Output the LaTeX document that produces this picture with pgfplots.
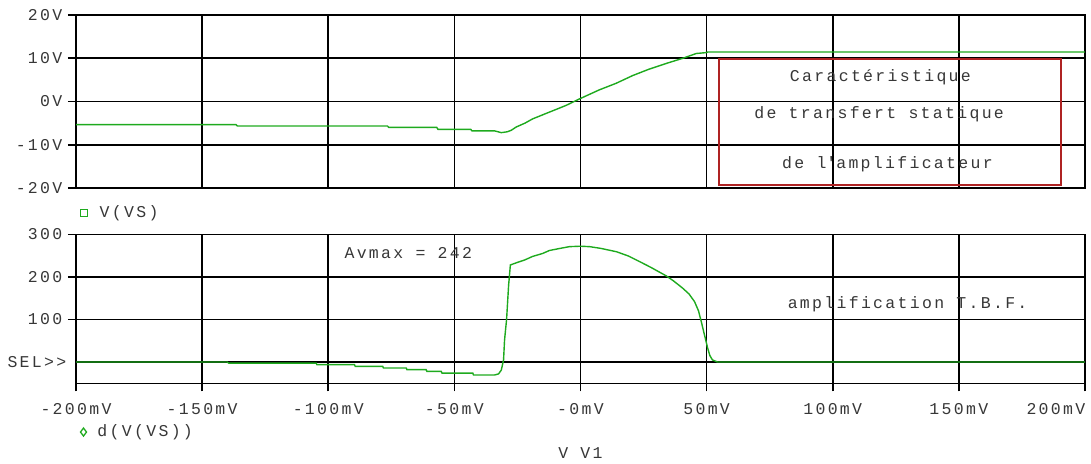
\documentclass[border=0pt]{standalone}
\usepackage{fontspec}
\setmainfont{Liberation Mono}[LetterSpace=14]
\usepackage{pgfplots}
\pgfplotsset{compat=1.18}
\definecolor{trace}{RGB}{30,170,30}
\definecolor{boxred}{RGB}{175,35,35}
\definecolor{txt}{RGB}{55,55,55}
\newcommand\tf{\fontsize{16.5}{19}\selectfont}
\begin{document}
\tf
\begin{tikzpicture}
\useasboundingbox (0pt,0pt) rectangle (1091pt,463pt);
\pgfplotsset{
  every axis/.append style={
    scale only axis, width=1009pt, xmin=-200, xmax=200,
    axis line style={line width=1.6pt, black},
    grid=major, grid style={line width=1.6pt, black},
    tick style={line width=1.6pt, black},
    tick align=outside, major tick length=8pt,
    xtick pos=bottom, ytick pos=left,
    ticklabel style={font=\tf, text=txt},
    anchor=south west,
    legend style={draw=none, fill=none, inner sep=0pt, font=\tf, text=txt,
      nodes={inner sep=0pt}},
    legend cell align=left,
  }
}
% ---------- top axis: V(VS)
\begin{axis}[at={(76pt,275pt)}, height=173pt, ymin=-20, ymax=20,
  ytick={-20,-10,0,10,20}, yticklabels={-20V,-10V,0V,10V,20V},
  xtick={-200,-150,...,200}, xticklabels={}, xtick style={draw=none},
  legend style={at={(0,-0.1445)}, anchor=west, xshift=4.5pt}]
\draw[boxred, line width=1.6pt] (axis cs:54.8,9.8) rectangle (axis cs:190.6,-19.3);
\node[text=txt, font=\tf] at (axis cs:118.9,5.5) {Caractéristique};
\node[text=txt, font=\tf] at (axis cs:118.4,-2.83) {de transfert statique};
\node[text=txt, font=\tf] at (axis cs:121.7,-14.55) {de l\textquotesingle amplificateur};
\addplot[trace, line width=1.4pt, forget plot] coordinates {
(-200,-5.36) (-136.5,-5.36) (-136,-5.67) (-76.5,-5.67) (-76,-5.98) (-57,-5.98)
(-56.5,-6.44) (-43.5,-6.44) (-43,-6.8) (-34,-6.8) (-31.4,-7.2) (-29,-7.0)
(-27.5,-6.67) (-25.5,-5.9) (-22,-5.0) (-18.9,-4.0) (-12.3,-2.45) (-5.7,-0.9)
(-0.4,0.6) (7.5,2.7) (14.1,4.2) (20.7,6.0) (27.3,7.5) (34,8.8) (40.6,10.0)
(45.9,11.1) (49.8,11.3) (50.5,11.45) (200,11.45)};
\addlegendimage{only marks, mark=square, mark size=3.5pt, trace, line width=1.3pt}
\addlegendentry{\hspace{12pt}V(VS)}
\end{axis}
% ---------- bottom axis: d(V(VS))
\begin{axis}[at={(76pt,79.7pt)}, height=149pt, ymin=-50, ymax=300,
  ytick={100,200,300}, yticklabels={100,200,300},
  extra y ticks={0}, extra y tick labels={SEL>{}>},
  extra y tick style={ytick style={draw=none}, yticklabel style={xshift=4pt}},
  xtick={-200,-150,...,150},
  xticklabels={-200mV,-150mV,-100mV,-50mV,-0mV,50mV,100mV,150mV},
  xticklabel style={yshift=-6pt},
  extra x ticks={200}, extra x tick labels={200mV},
  extra x tick style={xticklabel style={anchor=north east, xshift=6pt}},
  xlabel={V V1},
  xlabel style={at={(axis description cs:0.5,-0.468)}, anchor=center, font=\tf, text=txt},
  legend style={at={(0,-0.327)}, anchor=west, xshift=4.3pt}]
\node[text=txt, font=\tf, anchor=west, inner sep=0pt] at (axis cs:-93.6,257) {Avmax = 242};
\node[text=txt, font=\tf, anchor=west, inner sep=0pt] at (axis cs:82.1,134.6) {amplification T.B.F.};
\addplot[trace, line width=1.4pt, forget plot] coordinates {
(-200,0) (-140,0) (-139.5,-2.5) (-104.8,-2.5) (-104.5,-6.3) (-89.6,-6.3)
(-89.3,-10.3) (-78.4,-10.3) (-78.1,-14) (-69.1,-14) (-68.8,-18) (-61.2,-18)
(-60.9,-22) (-55.2,-22) (-54.9,-26) (-42.7,-26) (-42.4,-30.5) (-34.1,-30.5)
(-32.5,-28) (-31.4,-19) (-30.5,5) (-30.1,52) (-29.3,100) (-28.5,180)
(-27.8,228) (-25,234) (-22,240) (-19,248) (-15,255) (-12.3,262) (-8,267)
(-4.4,271) (0,272) (3.6,271) (8,267) (14.3,259) (19,249) (23.4,236) (28,222)
(34.1,202) (37,190) (40.4,174) (43,160) (45.2,142) (46.8,120) (48,92)
(49.3,60) (50.4,33) (51.3,15) (52.3,5) (54.3,0) (200,0)};
\addlegendimage{only marks, mark=diamond, mark size=4pt, trace, line width=1.3pt}
\addlegendentry{\hspace{11pt}d(V(VS))}
\end{axis}
\end{tikzpicture}
\end{document}
